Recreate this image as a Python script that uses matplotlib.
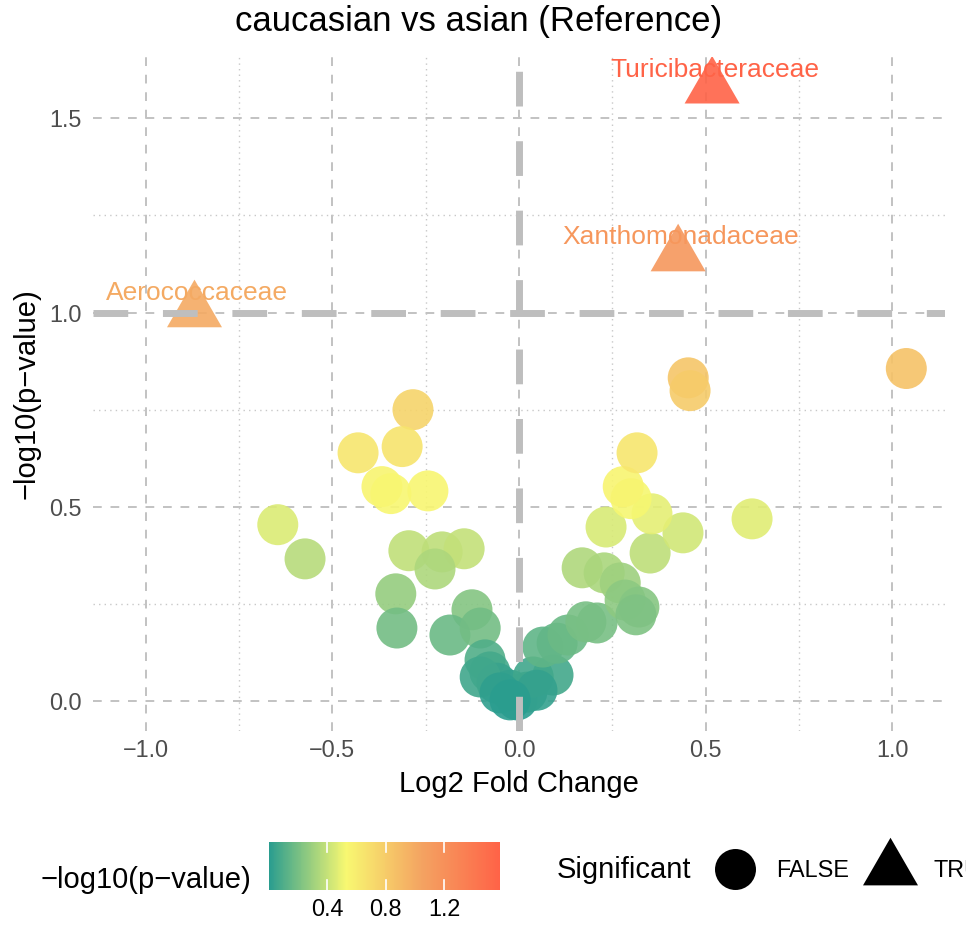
import numpy as np
import matplotlib.pyplot as plt
from matplotlib.colors import LinearSegmentedColormap, Normalize
from matplotlib.cm import ScalarMappable

plt.rcParams['font.family'] = ['Liberation Sans', 'DejaVu Sans']

# non-significant families: log2 fold change and -log10(p)
log2fc = [-0.646, -0.573, -0.431, -0.284, -0.313, -0.367, -0.343, -0.244,
          -0.295, -0.206, -0.147, -0.225, -0.330, -0.327, -0.126, -0.185,
          -0.104, -0.091, -0.078, -0.059, -0.024, -0.005, 0.021, 0.038,
          0.091, 0.064, 0.102, 0.131, 0.179, 0.209, 0.169, 0.228, 0.271,
          0.284, 0.321, 0.313, 0.233, 0.351, 0.439, 0.356, 0.300, 0.279,
          0.316, 0.624, 0.453, 0.458, 1.037, -0.104, -0.051, 0.048, -0.024]
neglog10p = [0.454, 0.366, 0.639, 0.750, 0.655, 0.552, 0.534, 0.541,
             0.387, 0.384, 0.392, 0.340, 0.276, 0.188, 0.235, 0.170,
             0.188, 0.106, 0.075, 0.046, 0.028, 0.003, 0.023, 0.062,
             0.067, 0.139, 0.149, 0.170, 0.204, 0.201, 0.343, 0.330, 0.304,
             0.260, 0.242, 0.222, 0.448, 0.381, 0.433, 0.482, 0.521, 0.552,
             0.639, 0.469, 0.832, 0.799, 0.856, 0.062, 0.021, 0.028, 0.003]

# significant families
sig_names = ['Aerococcaceae', 'Xanthomonadaceae', 'Turicibacteraceae']
sig_fc = [-0.869, 0.426, 0.517]
sig_p = [1.003, 1.147, 1.579]

p_cut = 1.0
fc_cut = 0.0

all_p = neglog10p + sig_p
all_fc = log2fc + sig_fc
cmap = LinearSegmentedColormap.from_list('volc', ['#2A9D8F', '#F8F871', '#F4A261', '#FF6347'])
norm = Normalize(min(all_p), max(all_p))

# R style filled triangle, centred on its centroid
tri = [(0, 1.555), (1.3468, -0.7776), (-1.3468, -0.7776)]

fig = plt.figure(figsize=(9.66, 9.30), dpi=100)
ax = fig.add_axes([0.0963, 0.2145, 0.882, 0.7242])

ax.scatter(log2fc, neglog10p, c=neglog10p, cmap=cmap, norm=norm, s=871,
           alpha=0.9, linewidths=0, zorder=3)
ax.scatter(sig_fc, sig_p, c=sig_p, cmap=cmap, norm=norm, s=2090, marker=tri,
           alpha=0.9, linewidths=0, zorder=3)
for name, x, y in zip(sig_names, sig_fc, sig_p):
    ax.annotate(name, (x, y), xytext=(2, 13), textcoords='offset points',
                ha='center', va='center', fontsize=19, color=cmap(norm(y)), zorder=2)

ax.axhline(p_cut, color='#BEBEBE', lw=5, dashes=(5, 5), zorder=4)
ax.axvline(fc_cut, color='#BEBEBE', lw=5, dashes=(5, 5), zorder=4)

lim = max(abs(v) for v in all_fc)
ax.set_xlim(-lim * 1.1, lim * 1.1)
rng = max(all_p) - min(all_p)
ax.set_ylim(min(all_p) - 0.05 * rng, max(all_p) + 0.05 * rng)

ax.set_xticks([-1.0, -0.5, 0.0, 0.5, 1.0])
ax.set_xticks([-0.75, -0.25, 0.25, 0.75], minor=True)
ax.set_yticks([0.0, 0.5, 1.0, 1.5])
ax.set_yticks([0.25, 0.75, 1.25], minor=True)
ax.grid(which='major', color='#C2C2C2', lw=1.4, linestyle=(0, (4.5, 4.5)))
ax.grid(which='minor', color='#C8C8C8', lw=1.0, linestyle=(0, (1, 3)))
ax.set_axisbelow(True)
for s in ax.spines.values():
    s.set_visible(False)
ax.tick_params(which='both', length=0, labelsize=16.8, labelcolor='#4D4D4D')
ax.tick_params(axis='x', pad=6)
ax.tick_params(axis='y', pad=8)
ax.set_xlabel('Log2 Fold Change', fontsize=21, labelpad=6)
ax.set_ylabel('\u2212log10(p\u2212value)', fontsize=21, labelpad=6)

fig.text(0.495, 1 - 22 / 930, 'caucasian vs asian (Reference)', ha='center', va='center', fontsize=25)

# colour bar legend
cax = fig.add_axes([269 / 966, 1 - 890 / 930, 231 / 966, 48 / 930])
cb = fig.colorbar(ScalarMappable(norm=norm, cmap=cmap), cax=cax, orientation='horizontal')
cb.outline.set_visible(False)
cb.set_ticks([0.4, 0.8, 1.2])
cax.tick_params(length=0, labelsize=16.8, pad=6)
for t in [0.4, 0.8, 1.2]:
    cax.plot([t, t], [0, 0.2], color='white', lw=1.2, transform=cax.get_xaxis_transform())
    cax.plot([t, t], [0.8, 1], color='white', lw=1.2, transform=cax.get_xaxis_transform())
fig.text(251 / 966, 1 - 880 / 930, '\u2212log10(p\u2212value)', ha='right', va='center', fontsize=21)

# shape legend
lax = fig.add_axes([0, 0, 1, 1])
lax.set_xlim(0, 966)
lax.set_ylim(930, 0)
lax.axis('off')
lax.text(557, 870, 'Significant', ha='left', va='center', fontsize=21)
lax.scatter([735], [869], s=871, c='black', marker='o', linewidths=0)
lax.text(776, 870, 'FALSE', ha='left', va='center', fontsize=16.8)
lax.scatter([890], [869], s=2090, c='black', marker=tri, linewidths=0)
lax.text(934, 870, 'TRUE', ha='left', va='center', fontsize=16.8)

fig.savefig('out.png', dpi=100)
